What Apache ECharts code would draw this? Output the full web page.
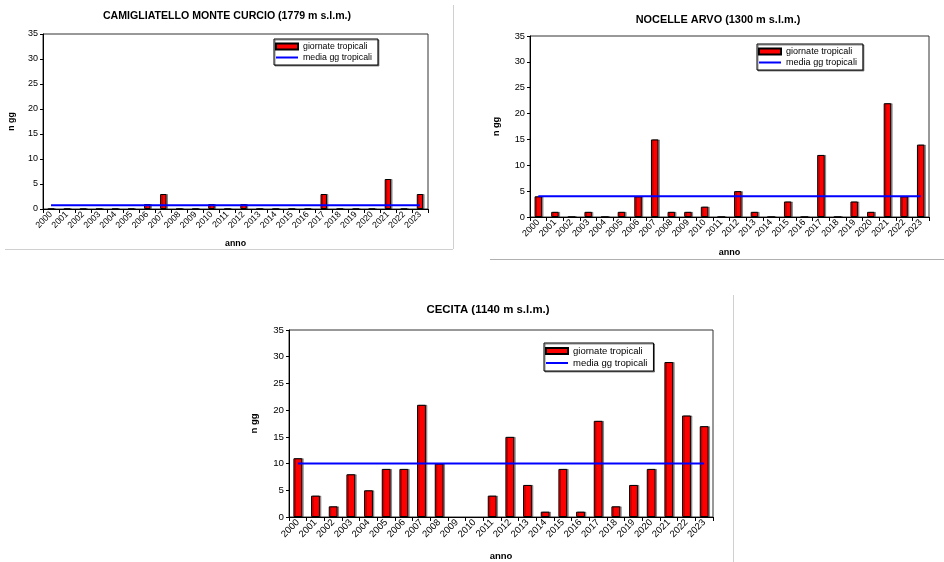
<!DOCTYPE html>
<html><head><meta charset="utf-8">
<script src="https://cdn.jsdelivr.net/npm/echarts@6/dist/echarts.min.js"></script>
<style>html,body{margin:0;padding:0;background:#fff}#c{width:944px;height:562px}</style>
</head><body><div id="c"></div>
<script>
const years = ['2000','2001','2002','2003','2004','2005','2006','2007','2008','2009','2010','2011','2012','2013','2014','2015','2016','2017','2018','2019','2020','2021','2022','2023'];
const yTicks = [0,5,10,15,20,25,30,35];
const titles = ['CAMIGLIATELLO MONTE CURCIO (1779 m s.l.m.)','NOCELLE ARVO (1300 m s.l.m.)','CECITA (1140 m s.l.m.)'];
const seriesNames = ['giornate tropicali','media gg tropicali'];
const camigliatello = [0,0,0,0,0,0,1,3,0,0,1,0,1,0,0,0,0,3,0,0,0,6,0,3];
const camigliatelloMean = [0.75,0.75,0.75,0.75,0.75,0.75,0.75,0.75,0.75,0.75,0.75,0.75,0.75,0.75,0.75,0.75,0.75,0.75,0.75,0.75,0.75,0.75,0.75,0.75];
const nocelle = [4,1,0,1,0,1,4,15,1,1,2,0,5,1,0,3,0,12,0,3,1,22,4,14];
const nocelleMean = [4,4,4,4,4,4,4,4,4,4,4,4,4,4,4,4,4,4,4,4,4,4,4,4];
const cecita = [11,4,2,8,5,9,9,21,10,null,null,4,15,6,1,9,1,18,2,6,9,29,19,17];
const cecitaMean = [10,10,10,10,10,10,10,10,10,10,10,10,10,10,10,10,10,10,10,10,10,10,10,10];

const FONT = '"Liberation Sans", Arial, sans-serif';
const grids = [
  {left:43, top:34, width:385, height:175},
  {left:530, top:36, width:399, height:181},
  {left:289, top:330, width:424, height:189}
];
const scale = [1, 1.03, 1.08];
const titlePos = [{x:227,y:11},{x:718,y:14},{x:488,y:304}];
const legendPos = [{x:274,y:39},{x:757,y:44},{x:544,y:343}];
const barWidths = ['40%','45%','50%'];
const xNameGap = [30,31,34];
const yNameGap = [27,29,30];
const barData = [camigliatello, nocelle, cecita];
const meanData = [camigliatelloMean, nocelleMean, cecitaMean];
const lineIcon = 'path://M0,0L0.01,0L0.01,0.01Z M0,2L22,2L22,4L0,4Z M21.99,5.99L22,5.99L22,6Z';

const option = {
  animation:false,
  textStyle:{fontFamily:FONT},
  title: titles.map((t,i)=>({text:t,left:titlePos[i].x,top:titlePos[i].y,textAlign:'center',padding:0,
    textStyle:{fontFamily:FONT,fontSize:10.6*scale[i],fontWeight:'bold',color:'#000'}})),
  legend: legendPos.map((p,i)=>({data:[{name:seriesNames[0],icon:'rect'},{name:seriesNames[1],icon:lineIcon}],
    left:p.x,top:p.y,orient:'vertical',
    itemWidth:22,itemHeight:6,itemGap:2,padding:[3,6,3,1],borderColor:'#000',borderWidth:1,
    shadowColor:'rgba(0,0,0,0.45)',shadowOffsetX:1,shadowOffsetY:1,backgroundColor:'#fff',
    textStyle:{fontFamily:FONT,fontSize:8.8*scale[i],color:'#000'}})),
  grid: grids.map(g=>Object.assign({show:true,borderColor:'#333',borderWidth:1,backgroundColor:'#fff'},g)),
  xAxis: grids.map((g,i)=>({type:'category',gridIndex:i,data:years,
    name:'anno',nameLocation:'middle',nameGap:xNameGap[i],
    nameTextStyle:{fontFamily:FONT,fontSize:8.8*scale[i],fontWeight:'bold',color:'#000'},
    axisLine:{lineStyle:{color:'#000',width:1}},
    axisTick:{show:true,length:4,lineStyle:{color:'#000'}},
    axisLabel:{rotate:45,fontSize:8.8*scale[i],fontFamily:FONT,color:'#000',margin:4,interval:0}})),
  yAxis: grids.map((g,i)=>({type:'value',gridIndex:i,min:0,max:35,interval:5,
    name:'n gg',nameLocation:'middle',nameGap:yNameGap[i],nameRotate:90,
    nameTextStyle:{fontFamily:FONT,fontSize:8.8*scale[i],fontWeight:'bold',color:'#000'},
    splitLine:{show:false},
    axisLine:{show:true,lineStyle:{color:'#000',width:1}},
    axisTick:{show:true,length:3,lineStyle:{color:'#000'}},
    axisLabel:{fontSize:9*scale[i],fontFamily:FONT,color:'#000',margin:5,
      formatter:v=>yTicks.includes(v)?String(v):''}})),
  series: [].concat(...grids.map((g,i)=>[
    {name:seriesNames[0],type:'bar',xAxisIndex:i,yAxisIndex:i,data:barData[i],barWidth:barWidths[i],
      itemStyle:{color:'#ff0000',borderColor:'#000',borderWidth:1,
        shadowColor:'rgba(0,0,0,0.35)',shadowOffsetX:1.5,shadowOffsetY:0,shadowBlur:0}},
    {name:seriesNames[1],type:'line',xAxisIndex:i,yAxisIndex:i,data:meanData[i],symbol:'none',showSymbol:false,z:5,
      lineStyle:{color:'#0000ff',width:2},itemStyle:{color:'#0000ff'}}
  ])),
  graphic:[
    {type:'line',shape:{x1:5,y1:249.5,x2:453,y2:249.5},style:{stroke:'#d0d0d0',lineWidth:1}},
    {type:'line',shape:{x1:453.5,y1:5,x2:453.5,y2:249},style:{stroke:'#d0d0d0',lineWidth:1}},
    {type:'line',shape:{x1:490,y1:259.5,x2:944,y2:259.5},style:{stroke:'#b0b0b0',lineWidth:1}},
    {type:'line',shape:{x1:733.5,y1:295,x2:733.5,y2:562},style:{stroke:'#d0d0d0',lineWidth:1}}
  ]
};
echarts.init(document.getElementById('c'),null,{renderer:'canvas'}).setOption(option);
</script></body></html>
